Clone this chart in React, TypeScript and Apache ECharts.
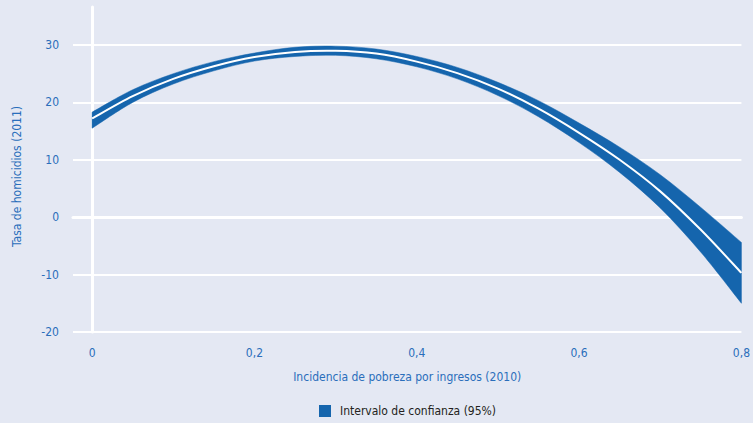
import React, { useEffect, useRef } from "react";
import * as echarts from "echarts";

const xValues = [0, 0.05, 0.1, 0.15, 0.2, 0.25, 0.3, 0.35, 0.4, 0.45, 0.5, 0.55, 0.6, 0.65, 0.7, 0.75, 0.8];
const fitted = [17.2, 21.1, 24.1, 26.3, 27.9, 28.8, 29.0, 28.5, 27.1, 25.1, 22.4, 18.9, 14.7, 10.0, 4.5, -2.2, -9.7];
const upperCI = [18.3, 22.2, 25.0, 27.1, 28.6, 29.6, 29.8, 29.3, 28.0, 26.1, 23.5, 20.3, 16.4, 12.2, 7.4, 1.7, -4.4];
const lowerCI = [15.5, 20.0, 23.2, 25.5, 27.2, 28.0, 28.2, 27.6, 26.2, 24.1, 21.2, 17.5, 13.0, 7.8, 1.6, -6.1, -15.0];

const legendName = "Intervalo de confianza (95%)";
const xName = "Incidencia de pobreza por ingresos (2010)";
const yName = "Tasa de homicidios (2011)";

const FONT = "'Liberation Sans Narrow', 'DejaVu Sans Condensed', 'Arial Narrow', sans-serif";
const BLUE_TEXT = "#2a6ebb";
const BAND = "#1565ad";

type Pt = number[];

function smoothSegments(pts: Pt[]): string {
  let d = "";
  for (let i = 0; i < pts.length - 1; i++) {
    const p0 = pts[Math.max(0, i - 1)];
    const p1 = pts[i];
    const p2 = pts[i + 1];
    const p3 = pts[Math.min(pts.length - 1, i + 2)];
    const c1x = p1[0] + (p2[0] - p0[0]) / 6;
    const c1y = p1[1] + (p2[1] - p0[1]) / 6;
    const c2x = p2[0] - (p3[0] - p1[0]) / 6;
    const c2y = p2[1] - (p3[1] - p1[1]) / 6;
    d += ` C ${c1x} ${c1y} ${c2x} ${c2y} ${p2[0]} ${p2[1]}`;
  }
  return d;
}

export default function App() {
  const ref = useRef<HTMLDivElement>(null);
  useEffect(() => {
    if (!ref.current) return;
    const chart = echarts.init(ref.current, undefined, { renderer: "svg" });
    chart.setOption({
      animation: false,
      backgroundColor: "#e4e8f3",
      textStyle: { fontFamily: FONT },
      grid: { left: 73, right: 8, top: 7, bottom: 91, containLabel: false },
      legend: {
        data: [{ name: legendName, icon: "rect" }],
        left: 319,
        top: 405,
        itemWidth: 12,
        itemHeight: 12,
        padding: 0,
        textStyle: { color: "#231f20", fontSize: 12, fontFamily: FONT, padding: [0, 0, 0, 4] },
      },
      xAxis: {
        type: "value",
        min: -0.0235,
        max: 0.8,
        name: xName,
        nameLocation: "middle",
        nameGap: 39,
        nameTextStyle: { color: BLUE_TEXT, fontSize: 12, fontFamily: FONT },
        axisLine: { show: true, lineStyle: { color: "#ffffff", width: 3 } },
        axisTick: { show: false },
        splitLine: { show: false },
        axisLabel: {
          color: BLUE_TEXT,
          fontSize: 12,
          fontFamily: FONT,
          margin: 15,
          showMinLabel: false,
          formatter: (v: number) => (v === 0 ? "0" : v.toFixed(1).replace(".", ",")),
        },
      },
      yAxis: {
        type: "value",
        min: -20,
        max: 36.62,
        interval: 10,
        name: yName,
        nameLocation: "middle",
        nameGap: 50,
        nameTextStyle: { color: BLUE_TEXT, fontSize: 12, fontFamily: FONT, padding: [0, 14, 0, 0] },
        axisLine: { show: true, lineStyle: { color: "#ffffff", width: 3 } },
        axisTick: { show: false },
        splitLine: { show: true, showMaxLine: false, lineStyle: { color: "#ffffff", width: 2 } },
        axisLabel: {
          color: BLUE_TEXT,
          fontSize: 12,
          fontFamily: FONT,
          margin: 14,
          showMaxLabel: false,
          formatter: (v: number) => String(v),
        },
      },
      series: [
        {
          name: legendName,
          type: "custom",
          coordinateSystem: "cartesian2d",
          data: [[0, 0]],
          itemStyle: { color: BAND },
          silent: true,
          renderItem: (_params: any, api: any) => {
            const top = xValues.map((x, i) => api.coord([x, upperCI[i]]));
            const bot = xValues.map((x, i) => api.coord([x, lowerCI[i]])).reverse();
            const mid = xValues.map((x, i) => api.coord([x, fitted[i]]));
            const band =
              `M ${top[0][0]} ${top[0][1]}` +
              smoothSegments(top) +
              ` L ${bot[0][0]} ${bot[0][1]}` +
              smoothSegments(bot) +
              " Z";
            const line = `M ${mid[0][0]} ${mid[0][1]}` + smoothSegments(mid);
            return {
              type: "group",
              children: [
                {
                  type: "path",
                  shape: { pathData: band },
                  style: { fill: BAND, stroke: BAND, lineWidth: 0.5 },
                },
                {
                  type: "path",
                  shape: { pathData: line },
                  style: { fill: "none", stroke: "#ffffff", lineWidth: 2 },
                },
              ],
            };
          },
        },
      ],
    });
    return () => chart.dispose();
  }, []);
  return (
    <div
      ref={ref}
      style={{ position: "fixed", left: 0, top: 0, width: 753, height: 423 }}
    />
  );
}
